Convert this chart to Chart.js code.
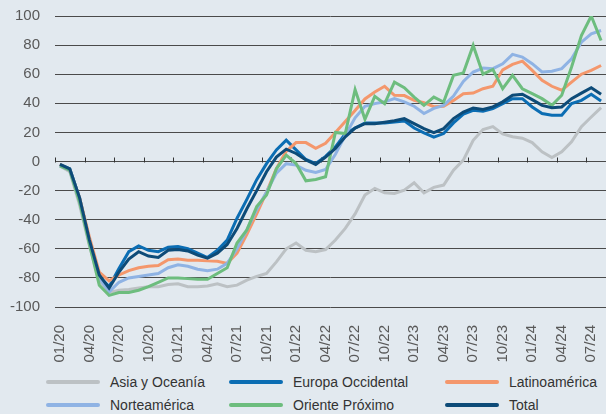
<!DOCTYPE html>
<html lang="es">
<head>
<meta charset="utf-8">
<title>Evolución por regiones</title>
<script src="https://cdn.jsdelivr.net/npm/chart.js@4.4.1/dist/chart.umd.min.js"></script>
<style>
  html, body { margin: 0; padding: 0; background: #e2e9ef; }
  body { width: 606px; height: 414px; position: relative; overflow: hidden; font-family: 'Liberation Sans', Arial, sans-serif; }
  .chart-box { position: absolute; left: 0; top: 0; width: 606px; height: 362px; }
  .legend-item { position: absolute; display: flex; align-items: center; height: 18px; font-size: 14px; color: #333; white-space: nowrap; }
  .legend-swatch { width: 54px; height: 4px; border-radius: 2px; margin-right: 10px; }
</style>
</head>
<body>
<div class="chart-box"><canvas id="regionChart"></canvas></div>
<div id="legend"></div>

<script>
// months, one point per month
const months = [
  '01/20','02/20','03/20','04/20','05/20','06/20','07/20','08/20','09/20','10/20','11/20','12/20',
  '01/21','02/21','03/21','04/21','05/21','06/21','07/21','08/21','09/21','10/21','11/21','12/21',
  '01/22','02/22','03/22','04/22','05/22','06/22','07/22','08/22','09/22','10/22','11/22','12/22',
  '01/23','02/23','03/23','04/23','05/23','06/23','07/23','08/23','09/23','10/23','11/23','12/23',
  '01/24','02/24','03/24','04/24','05/24','06/24','07/24','08/24'
];

const yTicks = [-100, -80, -60, -40, -20, 0, 20, 40, 60, 80, 100];

const asia = [-3, -7, -30, -58, -82, -90, -88.5, -88, -87, -86, -86, -84.5,
  -84, -86, -86, -85.5, -84, -86, -85, -81.5, -79, -77, -69, -60,
  -56, -61, -62, -60.5, -54, -46, -36, -23, -18.5, -21.5, -22, -19.7,
  -14.6, -21.5, -17.8, -16.2, -6, 1, 14.6, 22, 24, 19, 17, 16,
  13, 6.6, 2.7, 6.6, 13.5, 24, 30.6, 37];

const europa = [-2, -5, -25, -54, -79, -86, -73.5, -62, -58, -61, -62, -59,
  -58.5, -60, -63, -66, -61, -54, -39, -26, -12.5, -1.5, 8, 14.7,
  8, 1.4, -1.4, 3.5, 10, 19, 23, 26.5, 26.5, 26.5, 27.2, 27.9,
  23, 19.7, 16.7, 19.2, 26.5, 32.5, 35.2, 34.5, 36.3, 39.8, 43.2, 43.2,
  37.5, 33, 31.8, 31.8, 39.8, 42, 46.2, 41.6];

const latam = [-2, -6, -25, -52, -76, -82, -78, -75, -73, -72, -71.5, -67.5,
  -67, -67.8, -67.8, -68.3, -68.5, -70, -63, -50, -36, -21, -5, 7,
  13, 13, 9, 12.5, 20, 27.5, 35, 43, 47.8, 51.7, 45.5, 45.3,
  42, 40.5, 37.7, 38, 42, 46.6, 47, 50, 51.7, 63, 66.7, 69,
  62.6, 55.8, 51.7, 49, 54.6, 60, 62.6, 66];

const norte = [-3, -6, -27, -56, -80, -89.6, -83, -80, -79, -78, -77, -73,
  -71, -72, -74, -75, -74, -70, -60, -47, -33, -21, -8, -1.5,
  -2.5, -6, -7.5, -5.5, 5, 18, 30, 38, 39.8, 41, 43.2, 41,
  38, 33, 36.5, 38.6, 45, 55, 61.5, 64.2, 63.8, 67.2, 73.6, 71.8,
  67.2, 61.5, 62, 63.8, 70.6, 82, 87.8, 90];

const oriente = [-3, -6, -28, -57, -85, -92, -90, -90, -88.5, -86, -83, -80,
  -80, -80.5, -81, -81, -77, -73, -56, -47, -31, -23, -5, 4.4,
  -1.4, -13.3, -12.4, -10.5, 20, 19.2, 49.4, 29, 44.8, 39.8, 54.5, 50.7,
  44.3, 38.6, 44.3, 40.9, 59.2, 60.8, 79.8, 60, 63.3, 50, 59.2, 50,
  46.6, 43.2, 38.6, 45.5, 65, 86.6, 100, 83.2];

const total = [-2, -5, -25, -54, -78, -87, -76, -67, -62, -65, -66, -61,
  -60.5, -61.5, -64.4, -66.5, -63, -57, -46, -32.5, -20, -7, 3, 8.5,
  5.5, 1, -2, 3, 9, 17, 23, 26, 26, 27, 28, 29.5,
  26, 22.6, 19.9, 22.6, 29.5, 34, 36.8, 35.7, 37.5, 41, 45.5, 46.2,
  42.5, 38.6, 37, 37.5, 43.2, 47, 50.7, 46.2];

const seriesNames = ['Asia y Oceanía', 'Europa Occidental', 'Latinoamérica', 'Norteamérica', 'Oriente Próximo', 'Total'];
const seriesData = [asia, europa, latam, norte, oriente, total];
const seriesColors = ['#bcc1c4', '#0b6db3', '#f4976c', '#8fb3e4', '#6dbd7e', '#0d4b78'];

// little upward ticks on the zero line, one every quarter
const zeroLineTicks = {
  id: 'zeroLineTicks',
  beforeDatasetsDraw(chart) {
    const { ctx, scales: { x, y } } = chart;
    const step = x.getPixelForValue(1) - x.getPixelForValue(0);
    const y0 = Math.round(y.getPixelForValue(0)) + 0.5;
    ctx.save();
    ctx.strokeStyle = '#333';
    ctx.lineWidth = 1;
    ctx.beginPath();
    months.forEach((m, i) => {
      if (i % 3) return;
      const px = Math.round(x.getPixelForValue(i) - step / 2) + 0.5;
      ctx.moveTo(px, y0);
      ctx.lineTo(px, y0 - 5);
    });
    ctx.stroke();
    ctx.restore();
  }
};

const ctx = document.getElementById('regionChart');
const chart = new Chart(ctx, {
  type: 'line',
  data: {
    labels: months,
    datasets: seriesNames.map((name, i) => ({
      label: name,
      data: seriesData[i],
      borderColor: seriesColors[i],
      backgroundColor: seriesColors[i],
      borderWidth: 3,
      pointRadius: 0,
      tension: 0,
      order: seriesNames.length - i
    }))
  },
  options: {
    responsive: true,
    maintainAspectRatio: false,
    animation: false,
    layout: { padding: { top: 16, right: 0, bottom: 0, left: 0 } },
    plugins: { legend: { display: false }, tooltip: { enabled: false } },
    scales: {
      x: {
        offset: true,
        grid: { display: false },
        border: { display: false },
        ticks: {
          autoSkip: false,
          minRotation: 90,
          maxRotation: 90,
          padding: 10,
          color: '#595959',
          font: { family: "'Liberation Sans', Arial, sans-serif", size: 15 },
          callback: (v, i) => (i % 3 === 0 ? months[i] : '')
        },
        // fixed axis height, and no extra side padding for the rotated labels
        afterFit: s => { s.height = 55; s.paddingLeft = 0; s.paddingRight = 0; }
      },
      y: {
        min: yTicks[0],
        max: yTicks[yTicks.length - 1],
        afterBuildTicks: s => { s.ticks = yTicks.map(v => ({ value: v })); },
        grid: { color: '#4a4a4a', lineWidth: 1, drawTicks: false },
        border: { display: false },
        ticks: {
          padding: 15,
          color: '#595959',
          font: { family: "'Liberation Sans', Arial, sans-serif", size: 15 }
        },
        afterFit: s => { s.width = 55; s.paddingTop = 0; s.paddingBottom = 0; }
      }
    }
  },
  plugins: [zeroLineTicks]
});

// legend: 3 columns x 2 rows, built from the datasets
const legendCols = [46, 229, 445];
const legendRows = [373, 396];
const legendBox = document.getElementById('legend');
chart.data.datasets.forEach((ds, i) => {
  const item = document.createElement('div');
  item.className = 'legend-item';
  item.style.left = legendCols[i % 3] + 'px';
  item.style.top = legendRows[Math.floor(i / 3)] + 'px';
  item.innerHTML = `<span class="legend-swatch" style="background:${ds.borderColor}"></span>${ds.label}`;
  legendBox.appendChild(item);
});
</script>
</body>
</html>
